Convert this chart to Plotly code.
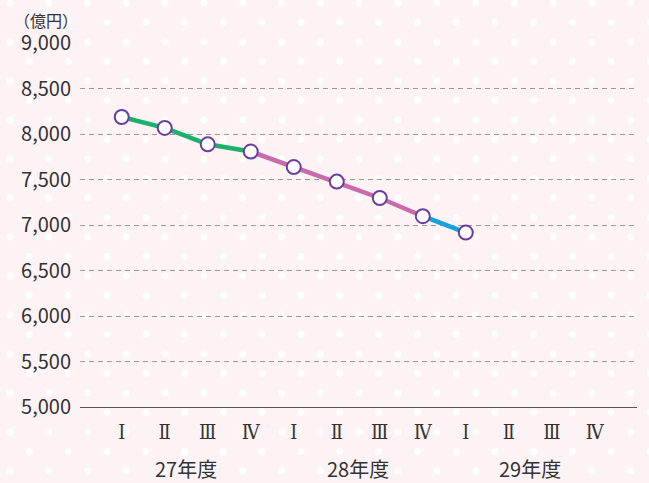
import base64
import plotly.graph_objects as go

# ---- data ----
quarters = ["Ⅰ", "Ⅱ", "Ⅲ", "Ⅳ"] * 3
years = ["27年度", "28年度", "29年度"]
values = [8190, 8070, 7890, 7810, 7640, 7480, 7300, 7100, 6920]
y_ticks = [5000, 5500, 6000, 6500, 7000, 7500, 8000, 8500, 9000]
unit_label = "（億円）"

# segment colors: FY27 green, FY28 pink, FY29 blue
seg_colors = ["#1bb06b", "#c86bab", "#13a3dc"]
seg_ranges = [(0, 4), (3, 8), (7, 9)]

W, H = 649, 483
FONT = "Noto Sans CJK JP"

# ---- background dot pattern (decoration) ----
svg = f'''<svg xmlns="http://www.w3.org/2000/svg" width="{W}" height="{H}">
<defs><pattern id="p" x="0.25" y="-6.75" width="38.8" height="39" patternUnits="userSpaceOnUse">
<circle cx="9.75" cy="9.75" r="3.4" fill="#ffffff"/>
<circle cx="29.15" cy="29.25" r="3.4" fill="#ffffff"/>
</pattern></defs>
<rect width="{W}" height="{H}" fill="#fdf2f4"/>
<rect width="{W}" height="{H}" fill="url(#p)"/>
</svg>'''
bg_src = "data:image/svg+xml;base64," + base64.b64encode(svg.encode()).decode()

fig = go.Figure()

xs = list(range(len(values)))
for (a, b), c in zip(seg_ranges, seg_colors):
    fig.add_trace(go.Scatter(
        x=xs[a:b], y=values[a:b], mode="lines",
        line=dict(color=c, width=4.5), hoverinfo="skip", showlegend=False))

fig.add_trace(go.Scatter(
    x=xs, y=values, mode="markers",
    marker=dict(size=14, color="#ffffff", line=dict(color="#6b3fa0", width=2)),
    showlegend=False))

x_dom = [80 / W, 637 / W]
y_dom = [(H - 407.3) / H, (H - 43.3) / H]

fig.update_layout(
    width=W, height=H,
    margin=dict(l=0, r=0, t=0, b=0, pad=0, autoexpand=False),
    paper_bgcolor="rgba(0,0,0,0)",
    plot_bgcolor="rgba(0,0,0,0)",
    font=dict(family=FONT, color="#333333"),
    images=[dict(source=bg_src, xref="paper", yref="paper", x=0, y=1,
                 sizex=1, sizey=1, sizing="stretch", layer="below",
                 xanchor="left", yanchor="top")],
    xaxis=dict(
        domain=x_dom, range=[-0.97, 11.98], automargin=False,
        tickmode="array", tickvals=list(range(len(quarters))), ticktext=quarters,
        tickfont=dict(size=20, family="DejaVu Serif Condensed", color="#333333"),
        showgrid=False, zeroline=False,
        showline=True, linecolor="#555555", linewidth=1,
        ticks="", ticklabelstandoff=7,
    ),
    yaxis=dict(
        domain=y_dom, range=[5000, 9000], automargin=False,
        tickmode="array", tickvals=y_ticks,
        ticktext=[f"{v:,}" for v in y_ticks],
        tickfont=dict(size=20, family=FONT, color="#333333"),
        showgrid=True, gridcolor="#9a9a9a", gridwidth=1, griddash="5px,4px",
        zeroline=False, showline=False, ticks="", ticklabelstandoff=8,
    ),
)

for i, yr in enumerate(years):
    fig.add_annotation(x=4 * i + 1.5, y=5000, xref="x", yref="y",
                       text=yr, showarrow=False, yanchor="top", yshift=-45,
                       font=dict(size=20, family=FONT, color="#333333"))

fig.add_annotation(x=12 / W, y=1 - 20 / H, xref="paper", yref="paper",
                   text=unit_label, showarrow=False, xanchor="left", yanchor="middle",
                   font=dict(size=16, family=FONT, color="#333333"))

post = (
    "document.body.style.margin='0';document.body.style.padding='0';"
    "document.body.style.overflow='hidden';"
)

fig.write_html("out.html", post_script=post, config={"displayModeBar": False})
